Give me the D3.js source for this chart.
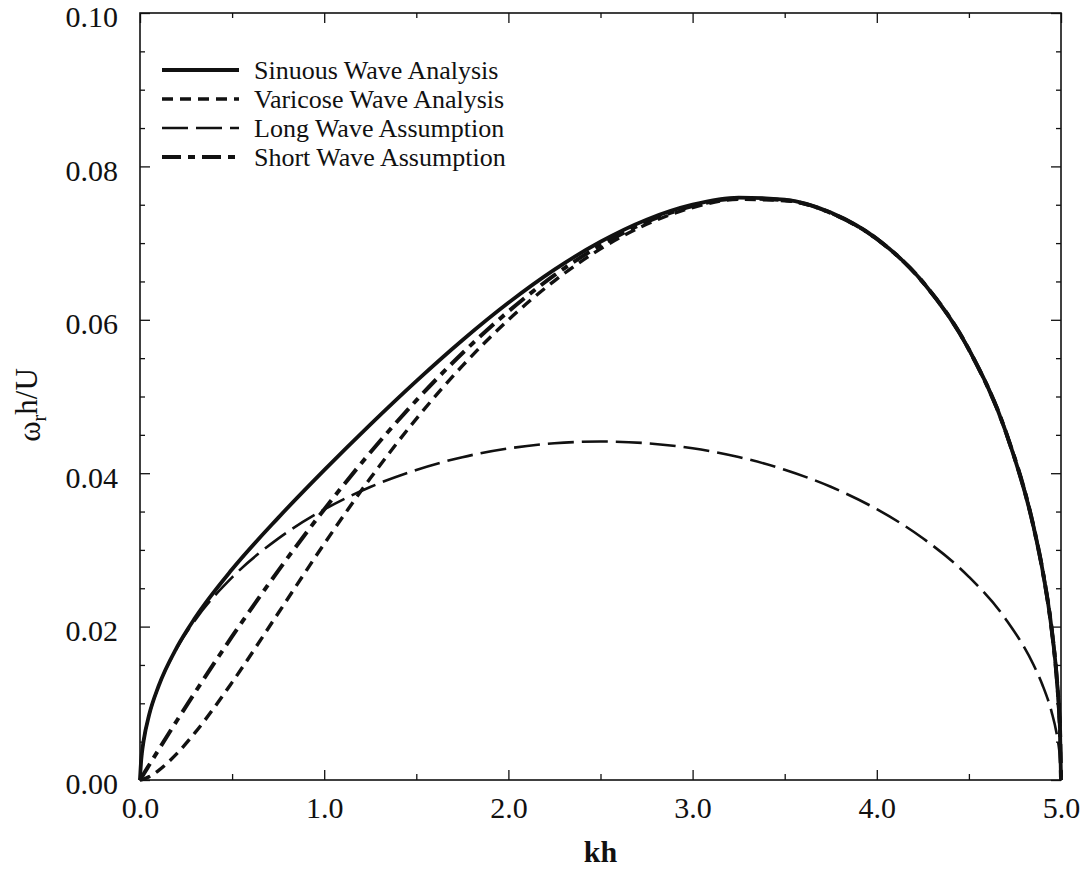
<!DOCTYPE html>
<html>
<head>
<meta charset="utf-8">
<script src="https://cdn.jsdelivr.net/npm/d3@7/dist/d3.min.js"></script>
<style>
body { margin: 0; background: #fff; }
svg { display: block; font-family: "Liberation Serif", "Times New Roman", serif; }
</style>
</head>
<body>
<div class="canvas"></div>
<script>
// data
const kh = [0, 0.005, 0.01, 0.02, 0.05, 0.1, 0.2, 0.3, 0.5, 0.75, 1.0, 1.25, 1.5, 1.75, 2.0, 2.25, 2.5,
    2.75, 3.0, 3.25, 3.5, 3.75, 4.0, 4.25, 4.5, 4.7, 4.85, 4.9, 4.95, 4.975, 4.99, 4.995, 5.0]

const sinuous = [0, 0.00213, 0.00341, 0.00517, 0.00853, 0.01219, 0.01729, 0.02117, 0.02747, 0.03418,
    0.04040, 0.04634, 0.05201, 0.05734, 0.06222, 0.06654, 0.07018, 0.07305, 0.07501, 0.07594, 0.07567,
    0.07398, 0.07057, 0.06492, 0.05613, 0.04541, 0.03313, 0.02733, 0.01952, 0.01388, 0.00880, 0.00623, 0]

const varicose = [0, 0.00001, 0.00004, 0.00011, 0.00044, 0.00123, 0.00344, 0.00620, 0.01273, 0.02174,
    0.03079, 0.03933, 0.04709, 0.05399, 0.05999, 0.06508, 0.06925, 0.07245, 0.07464, 0.07571, 0.07553,
    0.07390, 0.07052, 0.06490, 0.05611, 0.04540, 0.03313, 0.02733, 0.01952, 0.01388, 0.00880, 0.00623, 0]

const longWave = [0, 0.00213, 0.00341, 0.00517, 0.00852, 0.01217, 0.01717, 0.02087, 0.02641, 0.03147,
    0.03527, 0.03820, 0.04043, 0.04209, 0.04323, 0.04391, 0.04413, 0.04391, 0.04325, 0.04211, 0.04045,
    0.03823, 0.03531, 0.03152, 0.02649, 0.02097, 0.01506, 0.01236, 0.00879, 0.00623, 0.00395, 0.00279, 0]

const shortWave = [0, 0.00020, 0.00039, 0.00079, 0.00196, 0.00390, 0.00773, 0.01147, 0.01871, 0.02727,
    0.03527, 0.04269, 0.04949, 0.05564, 0.06109, 0.06581, 0.06971, 0.07275, 0.07482, 0.07583, 0.07560,
    0.07394, 0.07054, 0.06491, 0.05612, 0.04540, 0.03313, 0.02733, 0.01952, 0.01387, 0.00880, 0.00623, 0]

const seriesNames = ['Sinuous Wave Analysis', 'Varicose Wave Analysis', 'Long Wave Assumption', 'Short Wave Assumption']
const seriesValues = [sinuous, varicose, longWave, shortWave]

const xMajor = [0, 1, 2, 3, 4, 5]
const xMinor = [0.5, 1.5, 2.5, 3.5, 4.5]
const yMajor = [0, 0.02, 0.04, 0.06, 0.08, 0.10]
const yMinor = [0.005, 0.01, 0.015, 0.025, 0.03, 0.035, 0.045, 0.05, 0.055, 0.065, 0.07, 0.075, 0.085, 0.09, 0.095]

// line styles, same order as seriesNames
const lineStyle = [
    {dash: null, width: 3.8},
    {dash: '11,7', width: 3.4},
    {dash: '26,8', width: 2.6},
    {dash: '19,7,7,7', width: 4}
]

const svgWidth = 1089
const svgHeight = 870
const margin = {top: 13, right: 28, bottom: 90, left: 140}
const graphWidth = svgWidth - margin.left - margin.right
const graphHeight = svgHeight - margin.top - margin.bottom

const svg = d3.select('.canvas')
    .append('svg')
    .attr('width', svgWidth)
    .attr('height', svgHeight)

svg.append('rect')
    .attr('width', svgWidth)
    .attr('height', svgHeight)
    .attr('fill', '#fff')

const graph = svg.append('g')
    .attr('transform', `translate(${margin.left}, ${margin.top})`)

const x = d3.scaleLinear().domain([0, 5]).range([0, graphWidth])
const y = d3.scaleLinear().domain([0, 0.1]).range([graphHeight, 0])

// axes: ticks point inward on all four sides
const tickFont = 30

graph.append('g')
    .attr('transform', `translate(0, ${graphHeight})`)
    .call(d3.axisBottom(x).tickValues(xMajor).tickSize(-10).tickPadding(17).tickFormat(d3.format('.1f')))
graph.append('g')
    .attr('transform', `translate(0, ${graphHeight})`)
    .call(d3.axisBottom(x).tickValues(xMinor).tickSize(-6).tickFormat(''))
graph.append('g')
    .call(d3.axisTop(x).tickValues(xMajor).tickSize(-10).tickFormat(''))
graph.append('g')
    .call(d3.axisTop(x).tickValues(xMinor).tickSize(-5).tickFormat(''))

const yLeft = graph.append('g')
    .call(d3.axisLeft(y).tickValues(yMajor).tickSize(-10).tickPadding(22).tickFormat(d3.format('.2f')))
graph.append('g')
    .call(d3.axisLeft(y).tickValues(yMinor).tickSize(-5).tickFormat(''))
graph.append('g')
    .attr('transform', `translate(${graphWidth}, 0)`)
    .call(d3.axisRight(y).tickValues(yMajor).tickSize(-10).tickFormat(''))
graph.append('g')
    .attr('transform', `translate(${graphWidth}, 0)`)
    .call(d3.axisRight(y).tickValues(yMinor).tickSize(-5).tickFormat(''))

graph.selectAll('.domain').remove()
graph.selectAll('.tick line').attr('stroke', '#111').attr('stroke-width', 1.3)
graph.selectAll('.tick text')
    .attr('font-family', '"Liberation Serif", "Times New Roman", serif')
    .attr('font-size', tickFont)
    .attr('fill', '#111')
yLeft.selectAll('.tick text').attr('dy', '0.46em')

// frame
graph.append('rect')
    .attr('width', graphWidth)
    .attr('height', graphHeight)
    .attr('fill', 'none')
    .attr('stroke', '#111')
    .attr('stroke-width', 1.6)

// curves
const line = d3.line()
    .x((d, i) => x(kh[i]))
    .y(d => y(d))
    .curve(d3.curveMonotoneX)

const drawOrder = [3, 2, 1, 0]
drawOrder.forEach(i => {
    graph.append('path')
        .datum(seriesValues[i])
        .attr('fill', 'none')
        .attr('stroke', '#111')
        .attr('stroke-width', lineStyle[i].width)
        .attr('stroke-dasharray', lineStyle[i].dash)
        .attr('d', line)
})

// legend
const legend = svg.append('g').attr('transform', 'translate(162, 70)')
seriesNames.forEach((name, i) => {
    const row = legend.append('g').attr('transform', `translate(0, ${i * 29})`)
    row.append('line')
        .attr('x1', 0).attr('x2', 77)
        .attr('stroke', '#111')
        .attr('stroke-width', lineStyle[i].width)
        .attr('stroke-dasharray', lineStyle[i].dash)
    row.append('text')
        .text(name)
        .attr('x', 92)
        .attr('y', 8.5)
        .attr('font-size', 26)
        .attr('fill', '#111')
})

// axis titles
svg.append('text')
    .text('kh')
    .attr('x', margin.left + graphWidth / 2)
    .attr('y', 862)
    .attr('text-anchor', 'middle')
    .attr('font-size', 30)
    .attr('font-weight', 'bold')
    .attr('fill', '#111')

const yTitle = svg.append('text')
    .attr('transform', 'translate(40, 405) rotate(-90)')
    .attr('text-anchor', 'middle')
    .attr('font-size', 31)
    .attr('fill', '#111')
yTitle.append('tspan').text('ω')
yTitle.append('tspan').text('r').attr('font-size', 20).attr('dy', '0.28em')
yTitle.append('tspan').text('h/U').attr('dy', '-0.28em')
</script>
</body>
</html>
